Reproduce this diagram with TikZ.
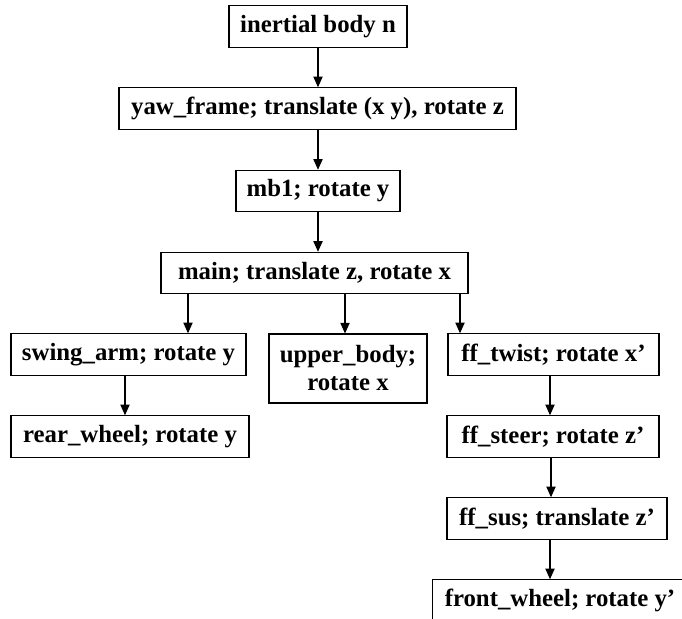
\documentclass[tikz,border=0pt]{standalone}
\usepackage{fontspec}
\setmainfont{Liberation Serif}
\usetikzlibrary{arrows.meta}

\tikzset{
  frame/.style={draw, line width=0.8pt, rectangle, inner sep=0pt,
    minimum height=41.5*0.75pt, align=center,
    font=\fontsize{18.6}{21}\selectfont\bfseries},
  link/.style={line width=0.8pt, -{Triangle[length=8pt,width=7pt]}}
}

\begin{document}
\begin{tikzpicture}[x=0.75pt, y=-0.75pt]
\def\u{0.75pt}
\useasboundingbox (0,0) rectangle (682,618);
\clip (0,0) rectangle (682,618);

% frames of the tree
\node[frame, minimum width=178*\u] (body) at (318,26.5) {inertial body n};
\node[frame, minimum width=397*\u] (yaw) at (317.5,108.5) {yaw\_frame; translate (x y), rotate z};
\node[frame, minimum width=164*\u] (mbone) at (318,191) {mb1; rotate y};
\node[frame, minimum width=307*\u] (main) at (314.5,273) {main; translate z, rotate x};
\node[frame, minimum width=235*\u] (swing) at (128.5,354.5) {swing\_arm; rotate y};
\node[frame, minimum width=238*\u] (rear) at (130,436.5) {rear\_wheel; rotate y};
\node[frame, minimum width=158*\u, minimum height=69*\u] (upper) at (348,368.5) {upper\_body;\\rotate x};
\node[frame, minimum width=211*\u] (twist) at (553.5,354.5) {ff\_twist; rotate x'};
\node[frame, minimum width=212*\u] (steer) at (553,436.5) {ff\_steer; rotate z'};
\node[frame, minimum width=220*\u] (sus) at (557,518.5) {ff\_sus; translate z'};
\node[frame, minimum width=255*\u] (front) at (560,600.5) {front\_wheel; rotate y'};

% x positions of the links
\coordinate (xc) at (318,0);
\coordinate (xsw) at (188,0);
\coordinate (xup) at (345,0);
\coordinate (xtw) at (460,0);
\coordinate (xre) at (125,0);
\coordinate (xff) at (550,0);
\coordinate (xss) at (551,0);

\draw[link] (xc |- body.south) -- (xc |- yaw.north);
\draw[link] (xc |- yaw.south) -- (xc |- mbone.north);
\draw[link] (xc |- mbone.south) -- (xc |- main.north);
\draw[link] (xsw |- main.south) -- (xsw |- swing.north);
\draw[link] (xup |- main.south) -- (xup |- upper.north);
\draw[link] (xtw |- main.south) -- (xtw |- twist.north);
\draw[link] (xre |- swing.south) -- (xre |- rear.north);
\draw[link] (xff |- twist.south) -- (xff |- steer.north);
\draw[link] (xss |- steer.south) -- (xss |- sus.north);
\draw[link] (xff |- sus.south) -- (xff |- front.north);
\end{tikzpicture}
\end{document}
